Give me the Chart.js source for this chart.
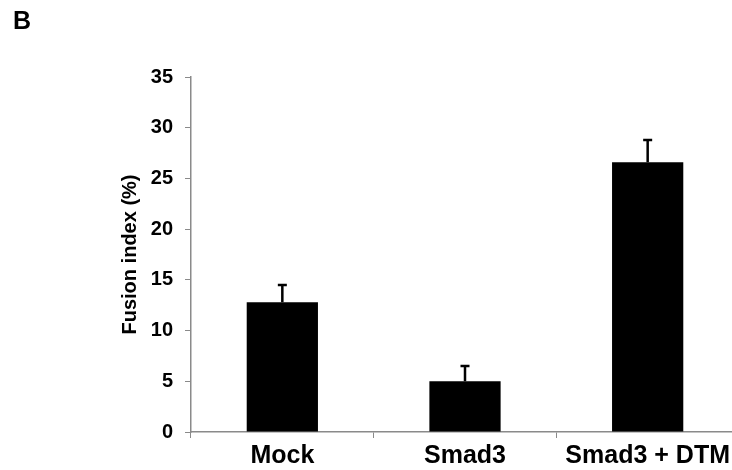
<!DOCTYPE html>
<html>
<head>
<meta charset="utf-8">
<script src="https://cdn.jsdelivr.net/npm/chart.js@4.4.0/dist/chart.umd.min.js"></script>
<style>
  body { margin: 0; background: #fff; }
  #wrap { position: relative; width: 732px; height: 470px; overflow: hidden; }
  #panel { position: absolute; left: 13px; top: 8px; font: bold 25px/1 "Liberation Sans", Arial, sans-serif; color: #000; }
</style>
</head>
<body>
<div id="wrap">
  <div id="panel">B</div>
  <canvas id="myChart" width="739" height="470"></canvas>
</div>
<script>
const categories = ['Mock', 'Smad3', 'Smad3 + DTM'];
const fusionIndex = [12.8, 5.0, 26.6];
const errorUp = [1.7, 1.5, 2.2];
const yMin = 0;
const yMax = 35;
const yStep = 5;

const errorBars = {
  id: 'errorBars',
  afterDatasetsDraw(chart) {
    const ctx = chart.ctx;
    const y = chart.scales.y;
    const meta = chart.getDatasetMeta(0);
    ctx.save();
    ctx.strokeStyle = '#000';
    ctx.lineWidth = 2.5;
    meta.data.forEach((bar, i) => {
      const top = y.getPixelForValue(fusionIndex[i] + errorUp[i]);
      ctx.beginPath();
      ctx.moveTo(bar.x, bar.y);
      ctx.lineTo(bar.x, top);
      ctx.moveTo(bar.x - 4.5, top);
      ctx.lineTo(bar.x + 4.5, top);
      ctx.stroke();
    });
    ctx.restore();
  }
};

const font = 'Liberation Sans, Arial, sans-serif';
let ctx = document.getElementById('myChart').getContext('2d');
let myChart = new Chart(ctx, {
  type: 'bar',
  data: {
    labels: categories,
    datasets: [{
      data: fusionIndex,
      backgroundColor: '#000',
      barPercentage: 0.39,
      categoryPercentage: 1
    }]
  },
  options: {
    responsive: false,
    animation: false,
    layout: { padding: { top: 77, right: 0, bottom: 0, left: 0 } },
    plugins: {
      legend: { display: false },
      tooltip: { enabled: false }
    },
    scales: {
      x: {
        grid: { drawOnChartArea: false, color: '#8a8a8a', tickLength: 6 },
        border: { color: '#8a8a8a', width: 1.5 },
        ticks: { color: '#000', padding: 3, font: { family: font, size: 25, weight: 'bold' } },
        afterFit(scale) {
          scale.height = 38;
          scale.paddingLeft = 0;
          scale.paddingRight = 0;
        }
      },
      y: {
        min: yMin,
        max: yMax,
        ticks: { stepSize: yStep, color: '#000', padding: 12, font: { family: font, size: 20, weight: 'bold' } },
        grid: { drawOnChartArea: false, color: '#8a8a8a', tickLength: 6 },
        border: { color: '#8a8a8a', width: 1.5 },
        title: {
          display: true,
          text: 'Fusion index (%)',
          color: '#000',
          padding: { top: 118, bottom: 0 },
          font: { family: font, size: 20, weight: 'bold' }
        },
        afterFit(scale) {
          scale.width = 191;
        }
      }
    }
  },
  plugins: [errorBars]
});
</script>
</body>
</html>
